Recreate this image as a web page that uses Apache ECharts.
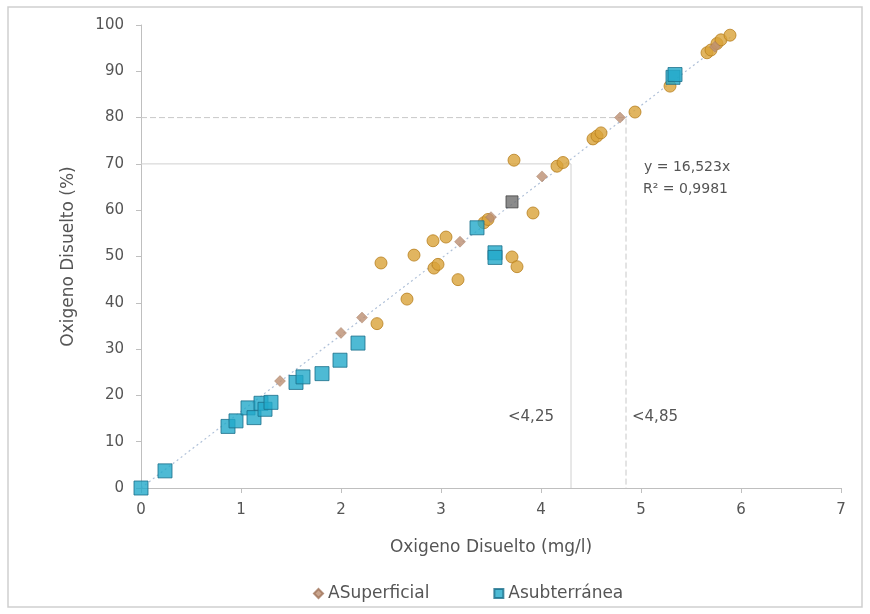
<!DOCTYPE html>
<html>
<head>
<meta charset="utf-8">
<script src="https://cdn.jsdelivr.net/npm/echarts@6/dist/echarts.min.js"></script>
<style>
html,body{margin:0;padding:0;background:#fff;}
#main{width:870px;height:614px;}
</style>
</head>
<body>
<div id="main"></div>
<script>
//datos (x = mg/l, y = %)
var puntosCirculo = [
	[2.40, 48.6], [2.73, 50.3], [2.66, 40.8], [2.36, 35.5], [2.92, 53.4],
	[3.05, 54.2], [2.93, 47.5], [2.97, 48.3], [3.17, 45.0], [3.43, 57.3],
	[3.47, 58.0], [3.71, 49.9], [3.76, 47.8], [3.73, 70.8], [3.92, 59.4],
	[4.16, 69.5], [4.22, 70.3], [4.52, 75.4], [4.56, 76.0], [4.60, 76.7],
	[4.94, 81.2], [5.29, 86.8], [5.66, 94.0], [5.70, 94.6], [5.76, 96.0],
	[5.80, 96.8], [5.89, 97.8]
];
var aSuperficial = [
	[1.39, 23.1], [2.00, 33.5], [2.21, 36.8], [3.19, 53.2], [3.50, 58.5],
	[4.01, 67.3], [4.79, 80.0], [5.74, 95.3]
];
var aSubterranea = [
	[0, 0], [0.24, 3.7], [0.87, 13.3], [0.95, 14.5], [1.07, 17.3],
	[1.13, 15.2], [1.20, 18.3], [1.24, 17.0], [1.30, 18.5], [1.55, 22.8],
	[1.62, 24.0], [1.81, 24.7], [1.99, 27.6], [2.17, 31.3], [3.36, 56.2],
	[3.54, 50.8], [3.54, 49.8], [5.32, 88.7], [5.34, 89.3]
];
var puntoGris = [[3.71, 61.8]];
//linea de tendencia y = 16,523x (extremos)
var tendencia = [[0, 0], [5.92, 97.8]];
//lineas de referencia
var ref80 = [[0, 80], [4.85, 80], [4.85, 0]];
var ref70 = [[0, 70], [4.30, 70], [4.30, 0]];
var ticksX = [0, 1, 2, 3, 4, 5, 6, 7];
var ticksY = [0, 10, 20, 30, 40, 50, 60, 70, 80, 90, 100];

var fuente = 'DejaVu Sans';
var gris = '#555555';

var myChart = echarts.init(document.getElementById('main'));
var option = {
	backgroundColor: '#fff',
	animation: false,
	textStyle: { fontFamily: fuente },
	grid: { left: 141, right: 29, top: 25, bottom: 126 },
	legend: {
		data: [
			{ name: 'ASuperficial', icon: 'diamond' },
			{ name: 'Asubterránea', icon: 'rect' }
		],
		left: 308,
		top: 580,
		itemWidth: 9,
		itemHeight: 9,
		itemGap: 64,
		textStyle: { color: gris, fontSize: 17, fontFamily: fuente }
	},
	xAxis: {
		type: 'value',
		min: ticksX[0],
		max: ticksX[ticksX.length - 1],
		interval: 1,
		name: 'Oxigeno Disuelto (mg/l)',
		nameLocation: 'middle',
		nameGap: 51,
		nameTextStyle: { color: gris, fontSize: 17, fontFamily: fuente },
		axisLine: { show: true, lineStyle: { color: '#BFBFBF' } },
		axisTick: { show: true, length: 5, lineStyle: { color: '#BFBFBF' } },
		axisLabel: { color: gris, fontSize: 15, margin: 15 },
		splitLine: { show: false }
	},
	yAxis: {
		type: 'value',
		min: ticksY[0],
		max: ticksY[ticksY.length - 1],
		interval: 10,
		name: 'Oxigeno Disuelto (%)',
		nameLocation: 'middle',
		nameGap: 64,
		nameTextStyle: { color: gris, fontSize: 17, fontFamily: fuente },
		axisLine: { show: true, lineStyle: { color: '#BFBFBF' } },
		axisTick: { show: true, length: 5, lineStyle: { color: '#BFBFBF' } },
		axisLabel: { color: gris, fontSize: 15, margin: 17 },
		splitLine: { show: false }
	},
	series: [{
		type: 'line',
		data: ref70,
		symbol: 'none',
		silent: true,
		z: 1,
		lineStyle: { color: '#D0D0D0', width: 1 }
	}, {
		type: 'line',
		data: ref80,
		symbol: 'none',
		silent: true,
		z: 1,
		lineStyle: { color: '#C8C8C8', width: 1, type: [6, 3] }
	}, {
		type: 'line',
		data: tendencia,
		symbol: 'none',
		silent: true,
		z: 1,
		lineStyle: { color: '#AFC0D8', width: 1.2, type: [2, 3] }
	}, {
		name: 'circulos',
		type: 'scatter',
		data: puntosCirculo,
		symbol: 'circle',
		symbolSize: 12,
		z: 3,
		itemStyle: { color: '#D9A238', borderColor: '#B8801E', borderWidth: 1 }
	}, {
		name: 'ASuperficial',
		type: 'scatter',
		data: aSuperficial,
		symbol: 'diamond',
		symbolSize: 11,
		z: 4,
		itemStyle: { color: '#BC8E72', borderColor: '#A0745A', borderWidth: 0.5 }
	}, {
		name: 'Asubterránea',
		type: 'scatter',
		data: aSubterranea,
		symbol: 'rect',
		symbolSize: 14,
		z: 5,
		itemStyle: { color: '#22A9C9', borderColor: '#1A6E8A', borderWidth: 1 }
	}, {
		name: 'gris',
		type: 'scatter',
		data: puntoGris,
		symbol: 'rect',
		symbolSize: 12,
		z: 5,
		itemStyle: { color: '#6E6E6E', borderColor: '#444', borderWidth: 1 }
	}],
	graphic: [{
		type: 'rect',
		shape: { x: 8, y: 7, width: 854, height: 600 },
		style: { fill: 'none', stroke: '#CFCFCF', lineWidth: 1.5 },
		silent: true
	}, {
		type: 'text', left: 644, top: 160,
		style: { text: 'y = 16,523x', fill: gris, font: '14px ' + fuente }
	}, {
		type: 'text', left: 643, top: 182,
		style: { text: 'R² = 0,9981', fill: gris, font: '14px ' + fuente }
	}, {
		type: 'text', left: 508, top: 410,
		style: { text: '<4,25', fill: gris, font: '15px ' + fuente }
	}, {
		type: 'text', left: 632, top: 410,
		style: { text: '<4,85', fill: gris, font: '15px ' + fuente }
	}]
};
myChart.setOption(option);
</script>
</body>
</html>
